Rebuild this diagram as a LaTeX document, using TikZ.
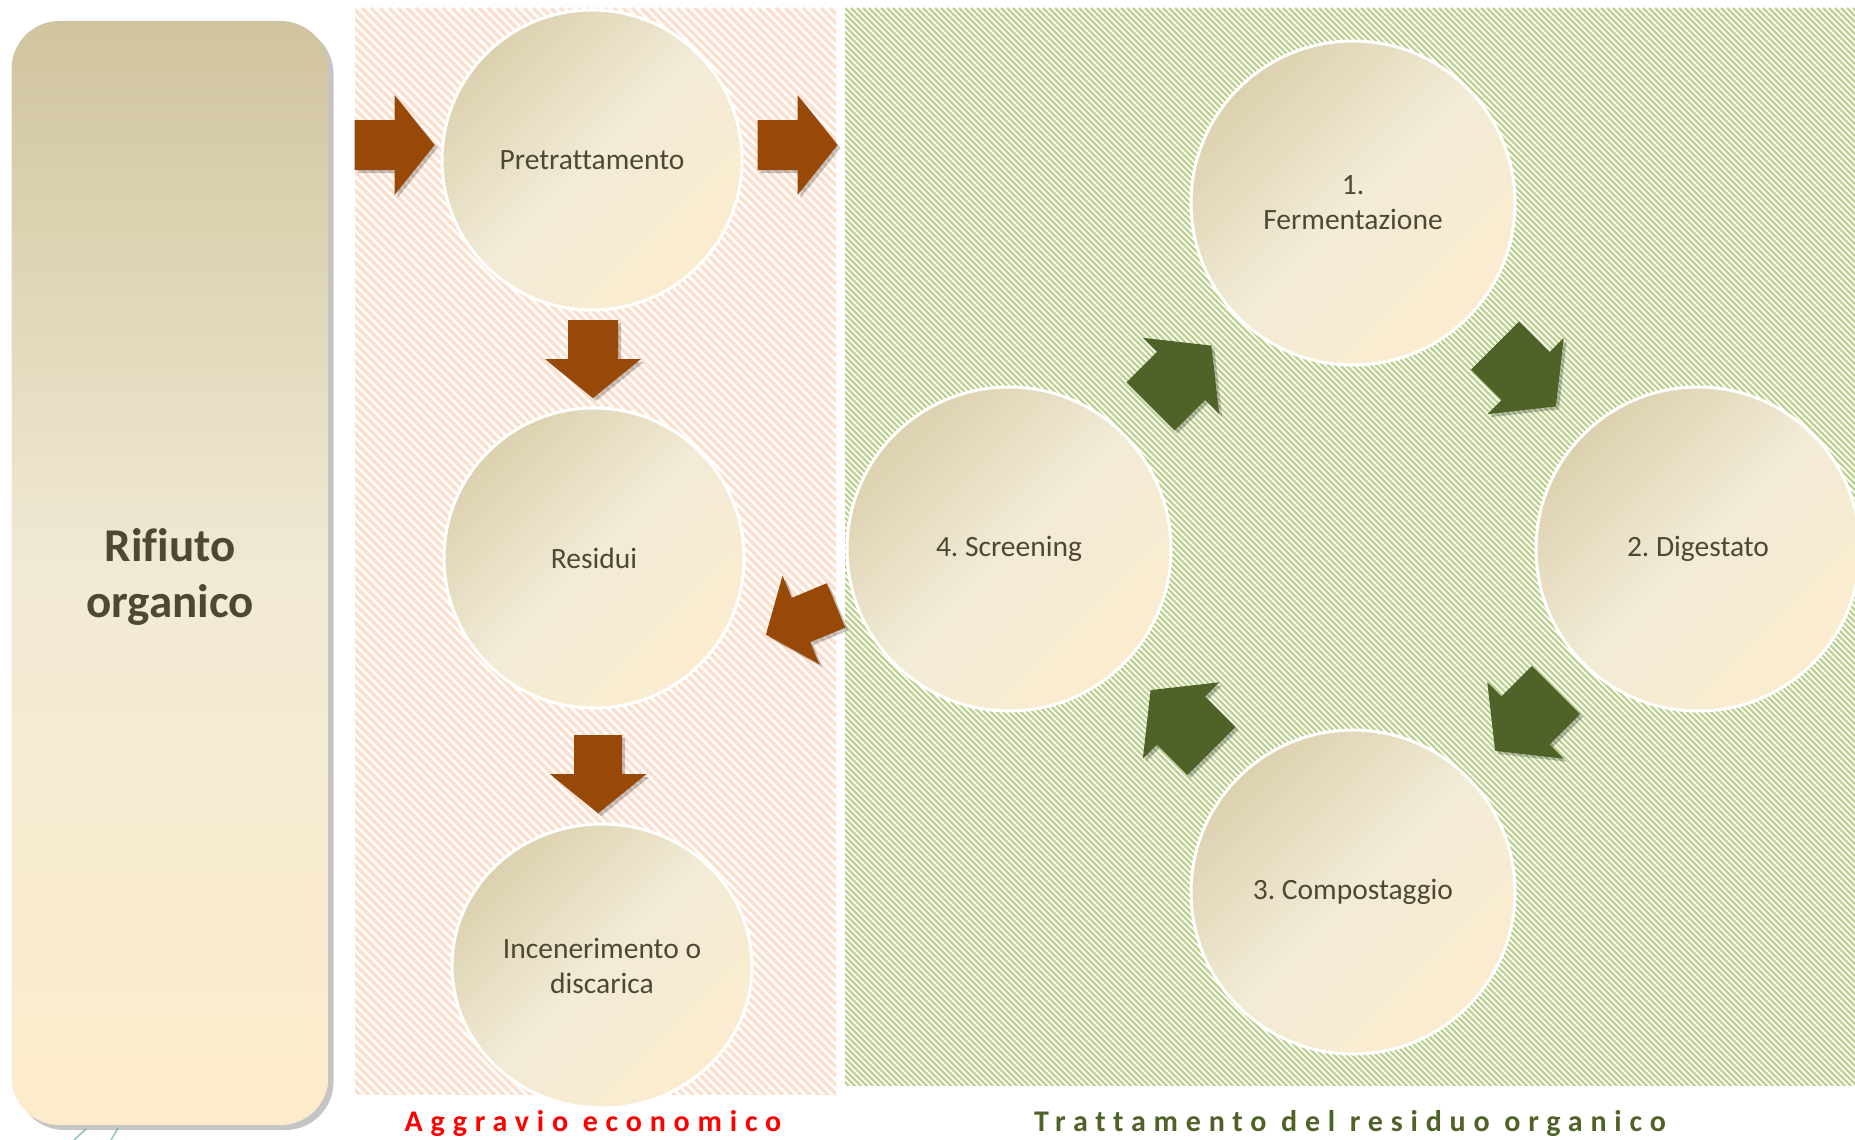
\documentclass[tikz,border=0pt]{standalone}
\usepackage{fontspec}
\setmainfont[Ligatures=NoCommon]{Carlito}
\newfontfamily\trackedfont[LetterSpace=26,Ligatures=NoCommon]{Carlito}
\usetikzlibrary{calc,shapes.geometric,shadows}
\frenchspacing
\definecolor{rustbrown}{RGB}{152,72,7}
\definecolor{olivegreen}{RGB}{79,98,40}
\definecolor{stripepink}{RGB}{252,223,205}
\definecolor{stripegreen}{RGB}{188,210,144}
\definecolor{tanA}{RGB}{220,209,175}
\definecolor{tanB}{RGB}{242,235,214}
\definecolor{tanC}{RGB}{251,236,207}
\definecolor{inktext}{RGB}{77,72,52}
\definecolor{boxtop}{RGB}{208,196,158}
\definecolor{boxmid}{RGB}{241,234,212}
\definecolor{boxbot}{RGB}{253,236,204}
\tikzset{
  stage/.style={circle, draw=white, line width=3pt, top color=tanA, bottom color=tanC,
    middle color=tanB, shading angle=45, text=inktext, align=center, inner sep=0pt,
    font=\fontsize{29.5}{35}\selectfont},
  wastebox/.style={rectangle, rounded corners=48pt, minimum width=317pt, minimum height=1104pt,
    top color=boxtop, bottom color=boxbot, middle color=boxmid,
    drop shadow={shadow xshift=5pt, shadow yshift=-5pt, opacity=0.45, fill=gray}},
  caption/.style={anchor=base, font=\trackedfont\bfseries\fontsize{30}{36}\selectfont},
  pics/blockarrow/.style args={#1/#2/#3/#4}{code={
    \fill[black, opacity=.22, transform canvas={shift={(3pt,-3pt)}}]
      (-#2,-#3) -- (0,-#3) -- (0,-#4) -- (#2,0) -- (0,#4) -- (0,#3) -- (-#2,#3) -- cycle;
    \fill[#1] (-#2,-#3) -- (0,-#3) -- (0,-#4) -- (#2,0) -- (0,#4) -- (0,#3) -- (-#2,#3) -- cycle;
  }}
}
\begin{document}
\begin{tikzpicture}[x=1pt, y=-1pt]
\path[fill=white, use as bounding box] (0,0) rectangle (1855,1140);
\begin{scope}
\clip (355,8) rectangle (836,1094);
\foreach \s in {-1100,-1091,...,840}
    \draw[stripepink, line width=3.2pt] (355+\s,8) -- ++(1090,1090);
\end{scope}
\begin{scope}
\clip (845,8) rectangle (1855,1085);
\foreach \s in {-1080,-1074,...,1010}
    \draw[stripegreen, line width=2.3pt] (845+\s,8) -- ++(1080,1080);
\end{scope}
\draw[teal!45, line width=1.5pt] (74,1140) -- (86,1129);
\draw[teal!45, line width=1.5pt] (118,1128) -- (111,1140);
\node[wastebox] (rif) at (170,573) {};
\node[text=inktext, align=center, font=\bfseries\fontsize{47}{56}\selectfont] (riflbl)
    at ($(rif)+(0,4)$) {Rifiuto\\organico};
\node[stage, minimum size=300pt] (pre) at (592,160) {Pretrattamento};
\node[stage, minimum size=300pt] (res) at (594,558) {Residui};
\node[stage, ellipse, minimum width=300pt, minimum height=284pt] (inc) at (602,966) {Incenerimento o\\discarica};
\node[stage, minimum size=324pt] (fer) at (1353,203) {1.\\Fermentazione};
\node[stage, minimum size=324pt] (dig) at (1698,549) {2. Digestato};
\node[stage, minimum size=324pt] (com) at (1353,892) {3. Compostaggio};
\node[stage, minimum size=324pt] (scr) at (1009,549) {4. Screening};
\pic at ($(pre.west)+(-46,-15)$) {blockarrow=rustbrown/40/25/50};
\pic at ($(pre.east)+(54,-15)$) {blockarrow=rustbrown/40/25/50};
\pic[rotate=-90] at ($(pre)!0.5!(res)$) {blockarrow=rustbrown/39/25/48};
\pic[rotate=-90] at ($(res)!0.53!(inc)$) {blockarrow=rustbrown/39/24/48};
\pic[rotate=202.6] at (801,620) {blockarrow=rustbrown/38/24/48};
\pic[rotate=45] at ($(scr)!0.5!(fer)$) {blockarrow=olivegreen/43/34/54};
\pic[rotate=-45] at ($(fer)!0.5!(dig)$) {blockarrow=olivegreen/43/34/54};
\pic[rotate=-135] at ($(dig)!0.5!(com)$) {blockarrow=olivegreen/43/34/54};
\pic[rotate=135] at ($(com)!0.5!(scr)$) {blockarrow=olivegreen/43/34/54};
\node[caption, text=red] (costlbl) at (593,1131) {Aggravio economico};
\node[caption, text=olivegreen] (treatlbl) at (1350,1131) {Trattamento del residuo organico};
\end{tikzpicture}
\end{document}
